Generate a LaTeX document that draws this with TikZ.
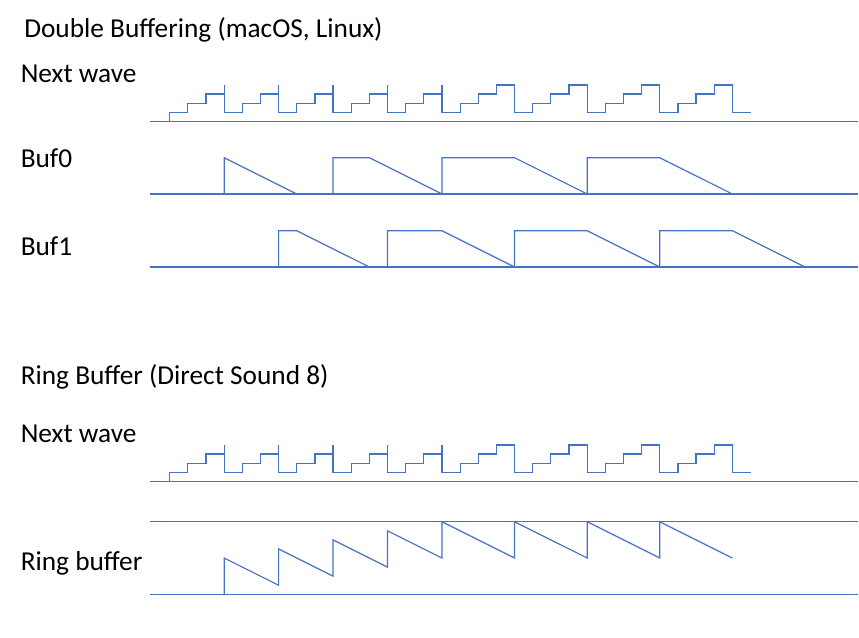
\documentclass[tikz,border=0pt]{standalone}
\usepackage{fontspec}
\setmainfont{Carlito}

\definecolor{waveblue}{HTML}{4472C4}

\tikzset{
  wave/.style={waveblue, line width=0.9pt},
  tracklabel/.style={anchor=base west, inner sep=0pt, font=\fontsize{20.5}{24}\selectfont},
  tickunits/.style={x=13.6125pt, y=6.8025pt}
}

% staircase of the next wave, in tick units
\newcommand{\nextwave}{%
  \draw[wave] (0,0) -- (0,1)
    \foreach \k in {0,3,6,9,12} {
      -- (\k+1,1) -- (\k+1,2) -- (\k+2,2) -- (\k+2,3) -- (\k+3,3) (\k+3,4) -- (\k+3,1)}
    \foreach \k in {15,19,23,27} {
      -- (\k+1,1) -- (\k+1,2) -- (\k+2,2) -- (\k+2,3) -- (\k+3,3) -- (\k+3,4) -- (\k+4,4) -- (\k+4,1)}
    -- (32,1);
}

\begin{document}
\begin{tikzpicture}[x=0.75pt, y=-0.75pt]

\useasboundingbox (0,0) rectangle (859,638);

% labels
\node[tracklabel] (dbtitle) at (24,37.7) {Double Buffering (macOS, Linux)};
\node[tracklabel] (dbnext) at (20.5,82.7) {Next wave};
\node[tracklabel] (buf0) at (20.5,167) {Buf0};
\node[tracklabel] (buf1) at (20.5,255) {Buf1};
\node[tracklabel] (rbtitle) at (20.5,384) {Ring Buffer (Direct Sound 8)};
\node[tracklabel] (rbnext) at (20.5,442) {Next wave};
\node[tracklabel] (ring) at (20.5,570) {Ring buffer};

% base lines
\draw[wave] (150,121.3) -- (858,121.3);
\draw[wave] (150,194) -- (858,194);
\draw[wave] (150,267) -- (858,267);
\draw[wave] (150,481.3) -- (858,481.3);
\draw[wave] (150,521.3) -- (858,521.3);
\draw[wave] (150,594.3) -- (858,594.3);

% double buffering
\begin{scope}[shift={(169.7,121.3)}, tickunits]
\nextwave
\end{scope}

\begin{scope}[shift={(169.7,194)}, tickunits]
\draw[wave] (3,0) -- (3,4) -- (7,0);
\draw[wave] (9,0) -- (9,4) -- (11,4) -- (15,0) -- (15,4) -- (19,4) -- (23,0) -- (23,4) -- (27,4) -- (31,0);
\end{scope}

\begin{scope}[shift={(169.7,267)}, tickunits]
\draw[wave] (6,0) -- (6,4) -- (7,4) -- (11,0);
\draw[wave] (12,0) -- (12,4) -- (15,4) -- (19,0) -- (19,4) -- (23,4) -- (27,0) -- (27,4) -- (31,4) -- (35,0);
\end{scope}

% ring buffer
\begin{scope}[shift={(169.7,481.3)}, tickunits]
\nextwave
\end{scope}

\begin{scope}[shift={(169.7,594.3)}, tickunits]
\draw[wave] (3,0) -- (3,4) -- (6,1) -- (6,5) -- (9,2) -- (9,6) -- (12,3) -- (12,7) -- (15,4) -- (15,8) -- (19,4) -- (19,8) -- (23,4) -- (23,8) -- (27,4) -- (27,8) -- (31,4);
\end{scope}

\end{tikzpicture}
\end{document}
